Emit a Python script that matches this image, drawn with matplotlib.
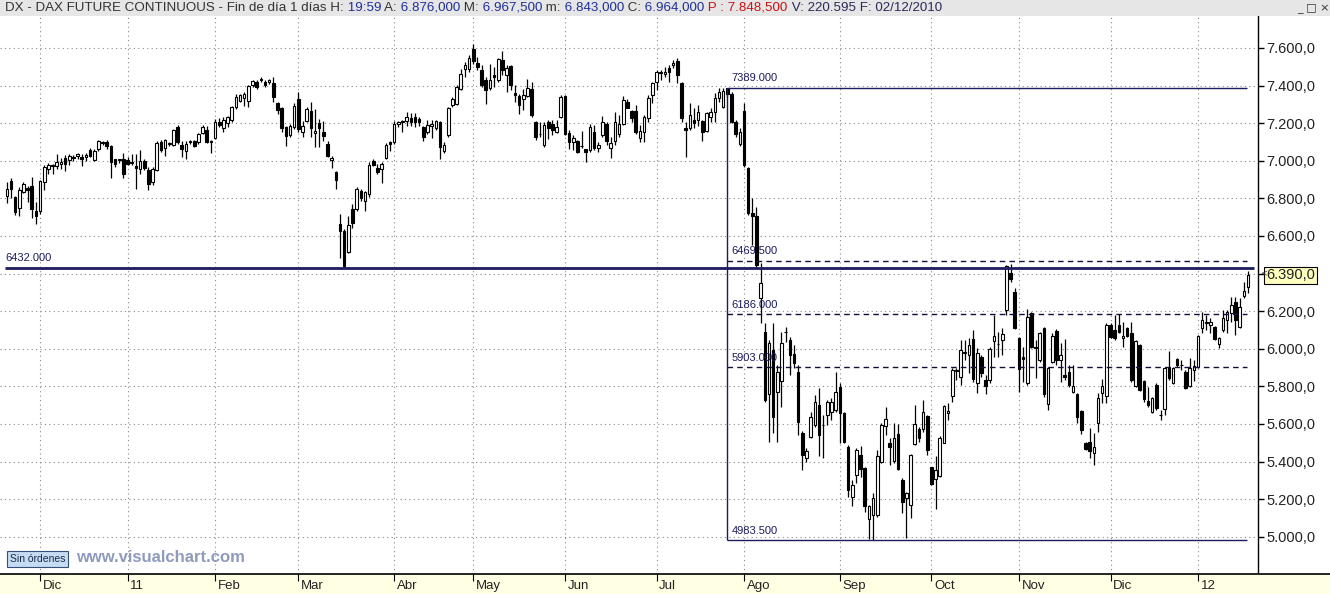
#!/usr/bin/env python3
"""
DAX Future Continuous - velas diarias con retroceso de Fibonacci
"""
import matplotlib
matplotlib.use("Agg")
import matplotlib.pyplot as plt
import numpy as np

# Velas diarias (O, H, L, C), del 19/11/2010 al 18/01/2012
opens = [6815, 6890, 6805, 6750, 6834, 6855, 6864, 6733, 6731, 6888,
         6958, 6978, 6972, 6981, 7014, 7005, 7019, 7023, 7019, 7019,
         7055, 7005, 7060, 7095, 7099, 7081, 7007, 7002, 7009, 7005,
         6993, 6972, 6958, 6998, 6952, 6887, 6952, 7099, 7069, 7090,
         7085, 7182, 7085, 7051, 7099, 7104, 7099, 7149, 7165, 7099,
         7121, 7204, 7172, 7199, 7217, 7284, 7320, 7332, 7316, 7405,
         7418, 7427, 7421, 7421, 7412, 7306, 7281, 7181, 7139, 7178,
         7329, 7151, 7213, 7266, 7146, 7199, 7151, 7089, 7005, 6938,
         6662, 6627, 6516, 6742, 6742, 6840, 6787, 6822, 7000, 6964,
         6955, 7014, 7100, 7098, 7196, 7213, 7213, 7228, 7235, 7222,
         7178, 7154, 7186, 7172, 7204, 7051, 7136, 7299, 7304, 7384,
         7487, 7490, 7596, 7522, 7481, 7428, 7388, 7455, 7428, 7535,
         7455, 7503, 7359, 7343, 7331, 7343, 7384, 7204, 7140, 7083,
         7204, 7193, 7154, 7234, 7345, 7149, 7101, 7104, 7080, 7060,
         7057, 7154, 7069, 7136, 7193, 7069, 7104, 7140, 7198, 7313,
         7264, 7264, 7122, 7155, 7226, 7350, 7421, 7465, 7461, 7492,
         7510, 7528, 7412, 7172, 7176, 7217, 7217, 7212, 7159, 7235,
         7262, 7332, 7288, 7386, 7354, 7208, 7088, 7265, 6960, 6721,
         6708, 6268, 6091, 5758, 5994, 5772, 5826, 6091, 6047, 5971,
         5878, 5551, 5418, 5533, 5595, 5701, 5595, 5648, 5666, 5675,
         5799, 5657, 5479, 5213, 5329, 5435, 5364, 5093, 5116, 5116,
         5400, 5589, 5501, 5405, 5547, 5302, 5205, 5169, 5493, 5572,
         5572, 5643, 5370, 5306, 5324, 5501, 5660, 5749, 5883, 5852,
         5985, 5967, 6050, 5820, 5958, 5834, 5834, 6043, 6025, 6047,
         6206, 6405, 6304, 6056, 5955, 5820, 6192, 6011, 5941, 6109,
         5706, 5932, 6096, 5941, 5861, 5878, 5772, 5760, 5667, 5501,
         5506, 5444, 5607, 5767, 5749, 6127, 6100, 6127, 6056, 6109,
         6082, 5802, 6020, 5830, 5724, 5666, 5808, 5648, 5678, 5905,
         5816, 5944, 5914, 5878, 5802, 5887, 5901, 6109, 6135, 6127,
         6118, 6025, 6100, 6153, 6189, 6251, 6118, 6281, 6327]
highs = [6885, 6910, 6811, 6860, 6885, 6864, 6913, 6780, 6899, 6975,
         6988, 6984, 7037, 7016, 7032, 7037, 7030, 7040, 7037, 7040,
         7070, 7060, 7110, 7105, 7108, 7085, 7010, 7010, 7041, 7020,
         7037, 7037, 7055, 7010, 6966, 6966, 7104, 7111, 7115, 7100,
         7170, 7189, 7104, 7104, 7110, 7110, 7150, 7190, 7187, 7108,
         7220, 7228, 7231, 7240, 7293, 7356, 7356, 7364, 7405, 7430,
         7427, 7444, 7430, 7436, 7448, 7311, 7288, 7187, 7196, 7306,
         7364, 7213, 7284, 7311, 7275, 7222, 7213, 7107, 7027, 6947,
         6716, 6636, 6707, 6769, 6858, 6852, 6840, 6991, 7009, 6982,
         6991, 7092, 7107, 7213, 7213, 7217, 7258, 7253, 7254, 7231,
         7187, 7216, 7216, 7216, 7211, 7101, 7287, 7340, 7402, 7490,
         7526, 7561, 7623, 7552, 7508, 7446, 7517, 7499, 7547, 7582,
         7508, 7511, 7405, 7357, 7384, 7437, 7419, 7211, 7207, 7204,
         7216, 7216, 7216, 7349, 7349, 7163, 7136, 7110, 7157, 7065,
         7193, 7189, 7101, 7237, 7207, 7127, 7260, 7242, 7345, 7331,
         7270, 7296, 7189, 7244, 7350, 7421, 7483, 7483, 7501, 7510,
         7536, 7549, 7421, 7208, 7306, 7279, 7297, 7217, 7262, 7279,
         7359, 7385, 7386, 7389, 7364, 7217, 7173, 7306, 6969, 6801,
         6756, 6455, 6136, 6047, 6136, 5914, 6091, 6118, 6065, 6020,
         5914, 5560, 5471, 5666, 5755, 5790, 5648, 5728, 5737, 5879,
         5817, 5666, 5488, 5302, 5471, 5483, 5373, 5169, 5235, 5462,
         5604, 5692, 5524, 5604, 5600, 5311, 5240, 5440, 5701, 5586,
         5728, 5648, 5373, 5430, 5536, 5701, 5713, 5896, 5896, 6047,
         6047, 6056, 6100, 6003, 5967, 5861, 6008, 6180, 6091, 6110,
         6445, 6451, 6322, 6061, 6011, 6210, 6197, 6047, 6091, 6118,
         5905, 6082, 6104, 6029, 6050, 5914, 5914, 5763, 5675, 5506,
         5577, 5554, 5763, 5838, 6139, 6136, 6180, 6185, 6144, 6118,
         6144, 6047, 6025, 5834, 5799, 5745, 5816, 5675, 5901, 5990,
         5901, 5950, 5941, 5887, 5950, 5941, 6073, 6197, 6180, 6162,
         6122, 6065, 6206, 6206, 6277, 6277, 6268, 6357, 6415]
lows = [6775, 6800, 6713, 6706, 6830, 6780, 6695, 6665, 6719, 6842,
        6931, 6931, 6958, 6958, 6945, 6975, 7000, 7010, 6970, 7000,
        7020, 7000, 7050, 7085, 7064, 6910, 6966, 6990, 6910, 6975,
        6975, 6851, 6931, 6950, 6842, 6870, 6945, 7046, 7023, 7080,
        7080, 7090, 7019, 7010, 7090, 7075, 7090, 7140, 7095, 7042,
        7115, 7178, 7151, 7178, 7204, 7276, 7311, 7293, 7284, 7391,
        7382, 7418, 7391, 7409, 7311, 7249, 7151, 7080, 7128, 7169,
        7151, 7128, 7204, 7124, 7075, 7071, 7107, 7018, 6964, 6849,
        6484, 6432, 6511, 6645, 6733, 6787, 6733, 6808, 6973, 6929,
        6884, 7009, 7053, 7089, 7178, 7151, 7187, 7187, 7178, 7187,
        7107, 7140, 7119, 7163, 7012, 7039, 7127, 7287, 7295, 7375,
        7446, 7473, 7517, 7481, 7393, 7304, 7375, 7393, 7419, 7455,
        7366, 7375, 7313, 7251, 7269, 7340, 7233, 7110, 7127, 7074,
        7118, 7136, 7150, 7225, 7136, 7065, 7057, 7039, 7066, 6995,
        7048, 7057, 7048, 7127, 7083, 7016, 7083, 7127, 7189, 7278,
        7207, 7145, 7101, 7102, 7208, 7306, 7377, 7430, 7448, 7421,
        7492, 7412, 7208, 7022, 7164, 7173, 7187, 7106, 7155, 7208,
        7208, 7315, 7279, 7341, 7200, 7129, 7081, 6969, 6712, 6553,
        6428, 6136, 5718, 5506, 5551, 5503, 5692, 6038, 5861, 5896,
        5542, 5356, 5400, 5524, 5586, 5427, 5418, 5595, 5622, 5666,
        5497, 5497, 5213, 5164, 5284, 5320, 5134, 4990, 4983.5, 5107,
        5391, 5542, 5382, 5391, 5355, 5125, 4995, 5098, 5488, 5506,
        5559, 5435, 5275, 5146, 5320, 5497, 5621, 5719, 5834, 5807,
        5940, 5869, 5825, 5763, 5852, 5759, 5820, 5958, 5958, 5967,
        6180, 6357, 6104, 5772, 5825, 5807, 6002, 5843, 5932, 5745,
        5675, 5923, 5914, 5825, 5834, 5799, 5763, 5604, 5547, 5462,
        5417, 5382, 5559, 5714, 5710, 6056, 6047, 6082, 6011, 6065,
        5825, 5795, 5777, 5719, 5692, 5657, 5675, 5621, 5648, 5834,
        5812, 5905, 5887, 5785, 5795, 5830, 5896, 6082, 6100, 6082,
        6047, 6003, 6091, 6082, 6144, 6073, 6109, 6268, 6295]
closes = [6850, 6850, 6727, 6846, 6878, 6846, 6745, 6706, 6890, 6966,
          6979, 6970, 6991, 6996, 6984, 7023, 7016, 7035, 7010, 7032,
          7023, 7051, 7104, 7099, 7081, 6993, 6981, 7009, 6931, 6984,
          6988, 6963, 6998, 6961, 6874, 6958, 7096, 7055, 7108, 7096,
          7161, 7099, 7064, 7087, 7104, 7081, 7143, 7182, 7099, 7104,
          7204, 7190, 7217, 7231, 7284, 7341, 7350, 7356, 7400, 7423,
          7395, 7435, 7405, 7427, 7338, 7270, 7174, 7133, 7187, 7293,
          7169, 7187, 7275, 7174, 7160, 7174, 7133, 7027, 7016, 6897,
          6627, 6440, 6658, 6671, 6849, 6804, 6835, 6978, 6978, 6938,
          6982, 7085, 7089, 7196, 7208, 7204, 7235, 7204, 7208, 7204,
          7124, 7189, 7198, 7211, 7074, 7083, 7281, 7331, 7393, 7464,
          7511, 7547, 7529, 7499, 7405, 7375, 7428, 7446, 7540, 7481,
          7495, 7405, 7350, 7296, 7349, 7389, 7242, 7127, 7145, 7189,
          7172, 7166, 7180, 7338, 7140, 7101, 7119, 7044, 7078, 7044,
          7180, 7069, 7083, 7204, 7104, 7097, 7204, 7198, 7322, 7281,
          7228, 7154, 7158, 7235, 7332, 7412, 7474, 7474, 7470, 7474,
          7519, 7457, 7226, 7165, 7244, 7199, 7258, 7155, 7253, 7258,
          7332, 7368, 7372, 7354, 7205, 7141, 7155, 6978, 6721, 6705,
          6446, 6349, 5728, 6029, 5639, 5879, 6029, 6091, 5967, 5923,
          5613, 5435, 5457, 5639, 5719, 5542, 5595, 5719, 5719, 5768,
          5657, 5506, 5249, 5275, 5462, 5359, 5164, 5164, 5205, 5427,
          5595, 5625, 5480, 5524, 5360, 5187, 5231, 5435, 5600, 5524,
          5666, 5462, 5281, 5355, 5524, 5696, 5671, 5887, 5887, 5994,
          5976, 6020, 5837, 5976, 5873, 5803, 5997, 6068, 6025, 6078,
          6440, 6370, 6109, 5891, 5948, 6167, 6011, 6002, 6082, 5760,
          5896, 6068, 5941, 5967, 5852, 5807, 5803, 5639, 5568, 5465,
          5458, 5479, 5736, 5802, 6127, 6061, 6056, 6091, 6068, 6068,
          5834, 6042, 5781, 5731, 5701, 5736, 5683, 5649, 5896, 5843,
          5896, 5914, 5914, 5790, 5896, 5908, 6068, 6153, 6144, 6144,
          6050, 6056, 6162, 6197, 6233, 6153, 6220, 6308, 6390]

# Meses: primera vela de cada mes
month_labels = ["Dic", "11", "Feb", "Mar", "Abr", "May", "Jun", "Jul",
                "Ago", "Sep", "Oct", "Nov", "Dic", "12"]
month_starts = [8, 29, 50, 70, 93, 112, 134, 156, 177, 200, 222, 243, 265, 286]

# Retroceso de Fibonacci (desde la vela 173 hasta el final)
fib_levels = [7389.0, 6469.5, 6186.0, 5903.0, 4983.5]
fib_start = 173
support_level = 6432.0
last_price = 6390.0

W, H = 1330, 594
BAR_PX = 4.165      # pixeles por vela
X0_PX = 6.8         # posicion de la primera vela
NAVY = "#1c1c5e"
FONT = ["Liberation Sans", "DejaVu Sans"]


def bx(px):
    # pixel horizontal -> indice de vela
    return (px - X0_PX) / BAR_PX


def es_num(v):
    # 7600 -> "7.600,0"
    return f"{v:,.1f}".replace(",", "X").replace(".", ",").replace("X", ".")


fig = plt.figure(figsize=(W / 100, H / 100), dpi=100)
fig.patch.set_facecolor("white")

# eje principal (precio a la derecha)
ax = fig.add_axes([0, 20 / H, 1258 / W, (574 - 16) / H])
ax.set_xlim(bx(0), bx(1258))
ax.set_ylim(4802, 7770)
ax.set_facecolor("white")
for s in ["left", "top", "bottom"]:
    ax.spines[s].set_visible(False)
ax.spines["right"].set_color("black")
ax.spines["right"].set_linewidth(1)

yt = list(range(5000, 7601, 200))
ax.set_yticks(yt)
ax.set_yticklabels(["" if v == 6400 else es_num(v) for v in yt])
ax.yaxis.tick_right()
ax.tick_params(axis="y", direction="out", length=4, width=1, pad=2, labelsize=10.5,
               labelcolor="#222222")
for lab in ax.get_yticklabels():
    lab.set_family(FONT)
ax.set_xticks([])

# rejilla punteada
grid_style = dict(color="#8a8a8a", lw=0.8, linestyle=(0, (1, 3)), zorder=1)
for v in yt:
    ax.axhline(v, **grid_style)
for m in month_starts:
    ax.axvline(m, **grid_style)

# velas
x = np.arange(len(opens))
o = np.array(opens, dtype=float)
h = np.array(highs, dtype=float)
l = np.array(lows, dtype=float)
c = np.array(closes, dtype=float)
up = c >= o
ax.vlines(x, l, h, color="black", lw=0.9, zorder=3)
ax.bar(x[up], c[up] - o[up], bottom=o[up], width=0.62, facecolor="white",
       edgecolor="black", lw=0.8, zorder=4)
ax.bar(x[~up], o[~up] - c[~up], bottom=c[~up], width=0.62, facecolor="black",
       edgecolor="black", lw=0.8, zorder=4)

# linea horizontal de soporte
ax.hlines(support_level, bx(5), bx(1254), color=NAVY, lw=2, zorder=5)
ax.text(bx(5), support_level + 22, f"{support_level:.3f}", color=NAVY, fontsize=8,
        family=FONT, va="bottom", ha="left", zorder=6)

# Fibonacci
fib_end = bx(1247)
ax.vlines(fib_start, fib_levels[-1], fib_levels[0], color=NAVY, lw=1, zorder=5)
ax.hlines([fib_levels[0], fib_levels[-1]], fib_start, fib_end, color=NAVY, lw=1, zorder=5)
ax.hlines(fib_levels[1:4], fib_start, fib_end, color="#10103a", lw=1,
          linestyles=(0, (4, 3)), zorder=5)
for v in fib_levels:
    ax.text(fib_start + 1, v + 22, f"{v:.3f}", color=NAVY, fontsize=8,
            family=FONT, va="bottom", ha="left", zorder=6)

# ultimo precio
ax.text(1 + 8 / 1258, last_price, es_num(last_price),
        transform=ax.get_yaxis_transform(), va="center", ha="left", fontsize=10.5,
        family=FONT, color="#222222",
        bbox=dict(boxstyle="square,pad=0.12", facecolor="#ffffc0", edgecolor="black", lw=0.8))
ax.text(1 + 2 / 1258, last_price + 15, "<", transform=ax.get_yaxis_transform(),
        va="center", ha="left", fontsize=6, color="#444444")

# franja inferior con los meses
strip = fig.add_axes([0, 0, 1, 20 / H])
strip.set_facecolor("#ffffe4")
strip.set_xlim(bx(0), bx(W))
strip.set_ylim(0, 20)
strip.set_xticks([])
strip.set_yticks([])
for s in ["left", "right", "bottom"]:
    strip.spines[s].set_visible(False)
strip.spines["top"].set_color("black")
strip.spines["top"].set_linewidth(1.2)
strip.vlines(month_starts, 13, 20, color="black", lw=0.8)
for m, lab in zip(month_starts, month_labels):
    strip.text(m + 0.6, 8, lab, fontsize=9.5, va="center", ha="left", color="#222222",
               family=FONT)

# cabecera
fig.patches.append(plt.Rectangle((0, 1 - 16 / H), 1, 16 / H, transform=fig.transFigure,
                                 facecolor="#e6e6e6", edgecolor="none", zorder=0))
gray, blue, red = "#333333", "#1f2f9a", "#cc1111"
pieces = [("DX - DAX FUTURE CONTINUOUS - Fin de día 1 días H:", gray), (" 19:59", blue),
          (" A:", gray), (" 6.876,000", blue), (" M:", gray), (" 6.967,500", blue),
          (" m:", gray), (" 6.843,000", blue), (" C:", gray), (" 6.964,000", blue),
          (" P : 7.848,500", red), (" V: 220.595 F: 02/12/2010", "#2a2a5a")]
renderer = fig.canvas.get_renderer()
xpos = 5
for s, col in pieces:
    t = fig.text(xpos / W, 1 - 8 / H, s, color=col, fontsize=9.6, va="center", ha="left",
                 family=["Liberation Sans Narrow"] + FONT)
    xpos = t.get_window_extent(renderer).x1
fig.text(1297 / W, 1 - 8 / H, "_ \u25a1 \u00d7", fontsize=8, va="center", ha="left", color="#333333")

# marca de agua y boton
fig.text(10 / W, 1 - 559 / H, "Sin órdenes", fontsize=7.5, va="center", ha="left",
         color="#1a2a4a", family=FONT,
         bbox=dict(boxstyle="square,pad=0.25", facecolor="#c6dcf2", edgecolor="#34507a", lw=0.8))
fig.text(76 / W, 1 - 558 / H, "www.visualchart.com", fontsize=12, fontweight="bold",
         va="center", ha="left", color="#8e9bbd", family=FONT)

fig.savefig("out.png", dpi=100)
